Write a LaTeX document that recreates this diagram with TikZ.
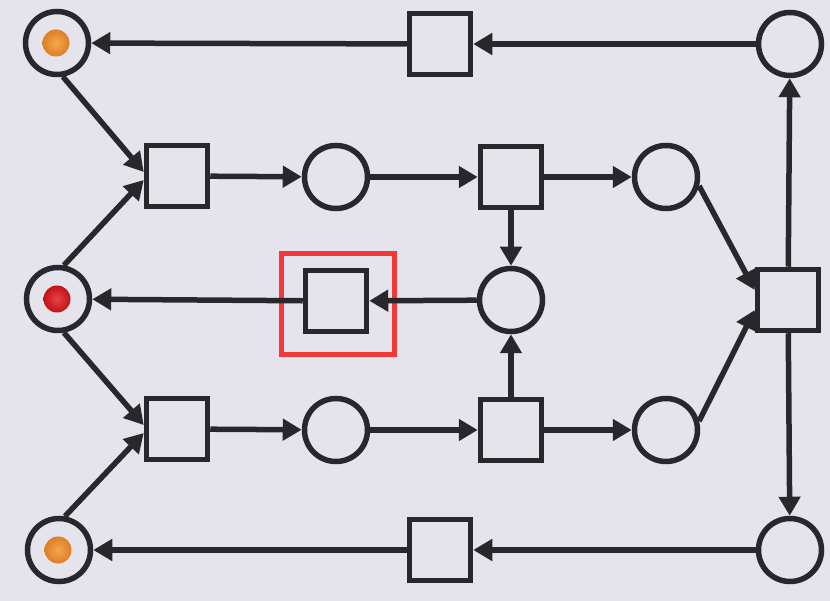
\documentclass[tikz,border=0pt]{standalone}
\usetikzlibrary{arrows.meta}
\definecolor{bg}{HTML}{E5E3EB}
\definecolor{ink}{HTML}{2A272C}
\definecolor{hl}{HTML}{F23838}
\definecolor{tokorange}{HTML}{DE7E24}
\definecolor{tokorangehi}{HTML}{F2A850}
\definecolor{tokred}{HTML}{C0121A}
\definecolor{tokredhi}{HTML}{E84444}
\begin{document}
\begin{tikzpicture}[x=1pt,y=-1pt,
  place/.style={circle,draw=ink,line width=5.5pt,minimum size=63pt,inner sep=0pt},
  trans/.style={rectangle,draw=ink,line width=5.5pt,minimum size=61pt,inner sep=0pt},
  arc/.style={draw=ink,line width=5.5pt,-{Triangle[length=19pt,width=21pt]}},
  token/.style={circle,inner sep=0pt,minimum size=27pt,shading=radial,inner color=#1hi,outer color=#1}]
\fill[bg] (0,0) rectangle (830,601);
\useasboundingbox (0,0) rectangle (830,601);
% nodes
\node[place] (pTR) at (790,44) {};
\node[trans] (tT) at (440,44) {};
\node[place] (p1) at (57,43) {};
\node[trans] (tA) at (177,176) {};
\node[place] (pA) at (336,177) {};
\node[trans] (tB) at (511,177) {};
\node[place] (pB) at (666,177) {};
\node[place] (p2) at (58,299) {};
\node[trans] (tM) at (336,301) {};
\node[place] (pM) at (511,300) {};
\node[trans] (tR) at (788,300) {};
\node[trans] (tC) at (177,429) {};
\node[place] (pC) at (336,430) {};
\node[trans] (tD) at (511,430) {};
\node[place] (pD) at (666,430) {};
\node[place] (p3) at (59,550) {};
\node[trans] (tBot) at (440,550) {};
\node[place] (pBR) at (790,550) {};
% tokens
\node[token=tokorange] (k1) at ([xshift=-1pt]p1.center) {};
\node[token=tokred] (k2) at ([xshift=-1pt]p2.center) {};
\node[token=tokorange] (k3) at ([xshift=-1pt]p3.center) {};
% highlight
\node[draw=hl,line width=4.5pt,minimum width=113pt,minimum height=101pt,inner sep=0pt] (hlbox) at (338,304) {};
% arcs
\draw[arc] (pTR) -- (tT);
\draw[arc] (tT) -- (p1);
\draw[arc] (p1.-80) -- ([yshift=4pt]tA.west);
\draw[arc] (p2.80) -- ([yshift=-4pt]tA.west);
\draw[arc] (p2.-80) -- ([yshift=4pt]tC.west);
\draw[arc] (p3.80) -- ([yshift=-4pt]tC.west);
\draw[arc] (tA) -- (pA);
\draw[arc] (pA) -- (tB);
\draw[arc] (tB) -- (pB);
\draw[arc] (tB) -- (pM);
\draw[arc] (tD) -- (pM);
\draw[arc] (pM) -- (tM);
\draw[arc] (tM) -- (p2);
\draw[arc] (tC) -- (pC);
\draw[arc] (pC) -- (tD);
\draw[arc] (tD) -- (pD);
\draw[arc] (pB.-15) -- ([yshift=10pt]tR.west);
\draw[arc] (pD.15) -- ([yshift=-10pt]tR.west);
\draw[arc] (tR) -- (pTR);
\draw[arc] (tR) -- (pBR);
\draw[arc] (pBR) -- (tBot);
\draw[arc] (tBot) -- (p3);
\end{tikzpicture}
\end{document}
